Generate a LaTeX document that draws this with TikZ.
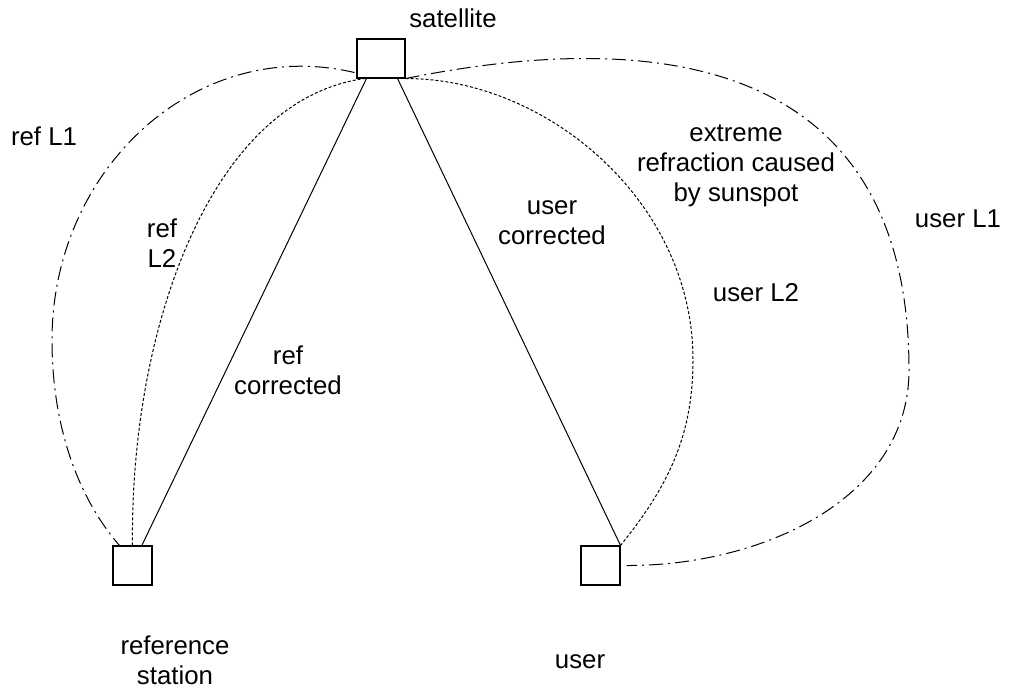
\documentclass[tikz,border=0pt]{standalone}
\usepackage{fontspec}
\setmainfont{Liberation Sans}
\begin{document}
\begin{tikzpicture}[x=0.75pt,y=-0.75pt,
  box/.style={draw,line width=0.8pt,inner sep=0pt,minimum width=#1,minimum height=29.25pt},
  lbl/.style={font=\fontsize{19.35pt}{22.5pt}\selectfont,align=center,inner sep=0pt},
  conn/.style={line width=0.75pt},
  dashdot/.style={conn,dash pattern=on 10.5pt off 3.75pt on 1.5pt off 3.75pt},
  fine/.style={conn,dash pattern=on 2.25pt off 1.5pt}]
\useasboundingbox (0,0) rectangle (1024,690);
% boxes
\node[box=36pt] (sat) at (381,58.5) {};
\node[box=29.25pt] (ref) at (132.5,565.5) {};
\node[box=29.25pt] (usr) at (600.5,565.5) {};
% labels
\node[lbl,anchor=base] (tsat) at (453,27) {satellite};
\node[lbl,anchor=base] (trefl1) at (44,145) {ref L1};
\node[lbl] (trefl2) at (162,243.5) {ref\\L2};
\node[lbl] (trefc) at (288,370) {ref\\corrected};
\node[lbl] (tusrc) at (552,223) {user\\corrected};
\node[lbl] (text) at (736,166) {extreme\\refraction caused\\by sunspot};
\node[lbl,anchor=base] (tusrl2) at (756,301) {user L2};
\node[lbl,anchor=base] (tusrl1) at (958,227) {user L1};
\node[lbl] (tref) at (175,660) {reference\\station};
\node[lbl] (tusr) at (580,662) {user};
% straight corrected paths
\draw[conn] ([xshift=7.5pt]sat.south west) -- ([xshift=7pt]ref.north);
\draw[conn] ([xshift=-6pt]sat.south east) -- (usr.north east);
% ref L1
\draw[dashdot] ([xshift=-1.5pt,yshift=4.5pt]sat.south west)
  .. controls (195,35) and (52,170) .. (52,340)
  .. controls (52,430) and (80,500) .. ([xshift=5.25pt]ref.north west);
% ref L2
\draw[fine] (ref.north) .. controls (130,330) and (210,100) .. ([xshift=6pt]sat.south west);
% user L2
\draw[fine] (sat.south east) .. controls (545,78) and (693,200) .. (693,360)
  .. controls (693,440) and (665,490) .. (usr.north east);
% user L1
\draw[dashdot] (sat.south east) .. controls (720,15) and (909,100) .. (909,370)
  .. controls (909,500) and (760,566) .. ([xshift=4.5pt]usr.east);
\end{tikzpicture}
\end{document}
